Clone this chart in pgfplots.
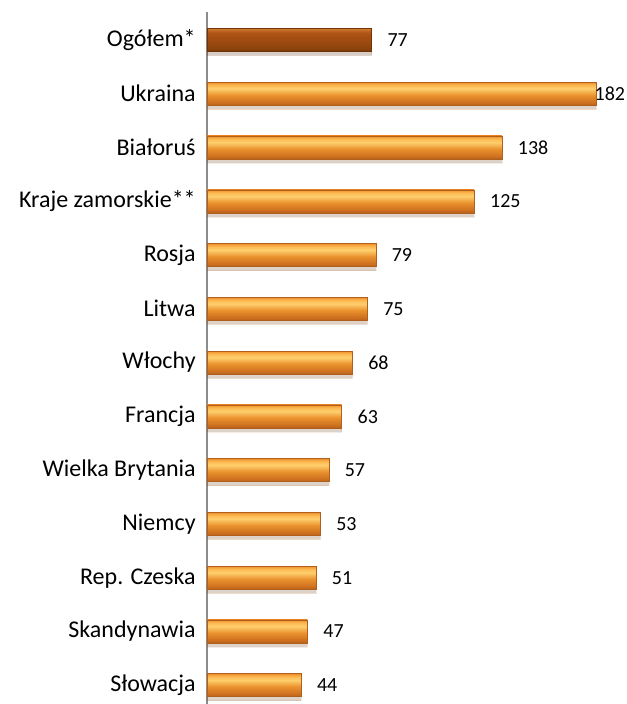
\documentclass[border=0pt]{standalone}
\usepackage{pgfplots}
\pgfplotsset{compat=1.18}
\usepackage{fontspec}
\setmainfont{Carlito}
\usetikzlibrary{calc}

\definecolor{axisgray}{HTML}{8C8C8C}
\definecolor{baredge}{HTML}{B0601C}
\definecolor{darkedge}{HTML}{6E3408}

% bar gradients, bottom to top (the middle 25bp-75bp covers the bar)
\pgfdeclareverticalshading{orangeshade}{100bp}{
    color(0bp)=(baredge); color(25bp)=(baredge);
    color(30bp)=({rgb,255:red,204;green,110;blue,30});
    color(47bp)=({rgb,255:red,234;green,146;blue,46});
    color(61bp)=({rgb,255:red,255;green,207;blue,110});
    color(69bp)=({rgb,255:red,252;green,184;blue,80});
    color(75bp)=({rgb,255:red,238;green,142;blue,44});
    color(100bp)=({rgb,255:red,238;green,142;blue,44})}
\pgfdeclareverticalshading{darkshade}{100bp}{
    color(0bp)=(darkedge); color(25bp)=(darkedge);
    color(30bp)=({rgb,255:red,138;green,66;blue,12});
    color(50bp)=({rgb,255:red,160;green,76;blue,16});
    color(65bp)=({rgb,255:red,174;green,84;blue,22});
    color(72bp)=({rgb,255:red,196;green,108;blue,38});
    color(75bp)=({rgb,255:red,216;green,132;blue,52});
    color(100bp)=({rgb,255:red,216;green,132;blue,52})}

\pgfplotsset{
    orangebar/.style={draw=baredge, line width=0.3pt, shading=orangeshade,
        preaction={fill=black, opacity=0.12, transform canvas={yshift=-3pt}}},
    darkbar/.style={draw=darkedge, line width=0.3pt, shading=darkshade,
        preaction={fill=black, opacity=0.12, transform canvas={yshift=-3pt}}},
}

\begin{document}
\begin{tikzpicture}
\begin{axis}[
    scale only axis,
    width=315pt,
    height=519pt,
    xbar,
    bar width=17.25pt,
    bar shift=0pt,
    xmin=0, xmax=196.5,
    ymin=-0.52, ymax=12.35,
    y dir=reverse,
    axis x line=none,
    axis y line=left,
    axis line style={-, draw=axisgray, line width=1.4pt},
    ytick={0,...,12},
    yticklabels={Ogółem*, Ukraina, Białoruś, Kraje zamorskie**, Rosja, Litwa, Włochy, Francja, Wielka Brytania, Niemcy, Rep. Czeska, Skandynawia, Słowacja},
    major tick length=0pt,
    yticklabel style={font=\fontsize{18}{20}\selectfont, xshift=-5pt},
    nodes near coords,
    /pgf/number format/assume math mode=true,
    every node near coord/.append style={font=\fontsize{15}{17}\selectfont, xshift=8.5pt},
    clip=false,
]
\addplot[darkbar] coordinates {(77,0)};
\addplot[orangebar, every node near coord/.append style={xshift=-13pt}] coordinates {(182,1)};
\addplot[orangebar] coordinates {(138,2)};
\addplot[orangebar] coordinates {(125,3)};
\addplot[orangebar] coordinates {(79,4)};
\addplot[orangebar] coordinates {(75,5)};
\addplot[orangebar] coordinates {(68,6)};
\addplot[orangebar] coordinates {(63,7)};
\addplot[orangebar] coordinates {(57,8)};
\addplot[orangebar] coordinates {(53,9)};
\addplot[orangebar] coordinates {(51,10)};
\addplot[orangebar] coordinates {(47,11)};
\addplot[orangebar] coordinates {(44,12)};
\end{axis}
\pgfresetboundingbox
\useasboundingbox ($(current axis.south west)+(-155.25pt,0)$) rectangle ($(current axis.north east)+(0,9pt)$);
\end{tikzpicture}
\end{document}
